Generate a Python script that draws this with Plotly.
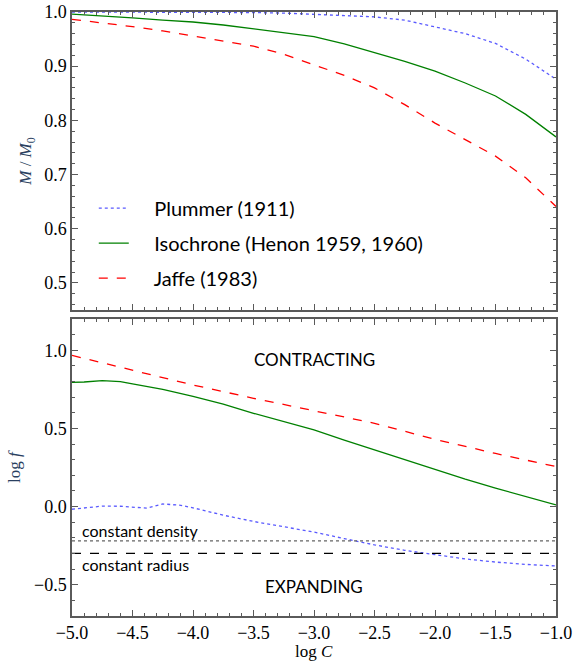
import plotly.graph_objects as go

# ---- data ----
logC = [-5.0, -4.75, -4.5, -4.25, -4.0, -3.75, -3.5, -3.25, -3.0, -2.75,
        -2.5, -2.25, -2.0, -1.75, -1.5, -1.25, -1.0]

mass_plummer = [1.0, 1.0, 1.0, 1.0, 1.0, 0.999, 0.999, 0.998, 0.996, 0.994,
                0.991, 0.985, 0.973, 0.960, 0.942, 0.913, 0.876]
mass_isochrone = [0.996, 0.993, 0.989, 0.985, 0.9815, 0.976, 0.969, 0.962, 0.9545, 0.941,
                  0.925, 0.909, 0.891, 0.869, 0.845, 0.811, 0.7695]
mass_jaffe = [0.9865, 0.980, 0.973, 0.965, 0.9556, 0.947, 0.937, 0.922, 0.903, 0.883,
              0.860, 0.829, 0.795, 0.765, 0.734, 0.694, 0.641]

f_plummer_x = [-5.0, -4.85, -4.75, -4.6, -4.45, -4.38, -4.25, -4.1, -4.0, -3.75, -3.5,
               -3.25, -3.0, -2.75, -2.5, -2.25, -2.0, -1.75, -1.5, -1.25, -1.0]
f_plummer = [-0.017, -0.003, 0.003, 0.002, -0.008, -0.01, 0.017, 0.008, -0.008, -0.055,
             -0.095, -0.13, -0.163, -0.205, -0.245, -0.28, -0.308, -0.335, -0.355, -0.37, -0.38]

f_iso_x = [-5.0, -4.9, -4.75, -4.6, -4.5, -4.25, -4.0, -3.75, -3.5, -3.25, -3.0,
           -2.75, -2.5, -2.25, -2.0, -1.75, -1.5, -1.25, -1.0]
f_isochrone = [0.795, 0.797, 0.806, 0.800, 0.785, 0.750, 0.705, 0.655, 0.597, 0.545, 0.490,
               0.425, 0.362, 0.300, 0.235, 0.175, 0.118, 0.063, 0.011]

f_jaffe_x = [-5.0, -4.5, -4.0, -3.5, -3.0, -2.5, -2.0, -1.5, -1.0]
f_jaffe = [0.967, 0.874, 0.778, 0.693, 0.615, 0.533, 0.430, 0.340, 0.256]

const_density = -0.22
const_radius = -0.30

names = ["Plummer (1911)", "Isochrone (Henon 1959, 1960)", "Jaffe (1983)"]
colors = ["rgb(90,90,255)", "rgb(0,128,0)", "rgb(255,0,0)"]
dashes = ["dot", "solid", "dash"]

fig = go.Figure()
for i, (nm, col, ds, ys) in enumerate(zip(names, colors, dashes,
                                           [mass_plummer, mass_isochrone, mass_jaffe])):
    fig.add_trace(go.Scatter(x=logC, y=ys, mode="lines", name="\u00a0" * 4 + nm,
                             legendgroup=f"g{i}",
                             line=dict(color=col, dash=ds, width=1.3),
                             xaxis="x", yaxis="y"))
for col, ds, xs, ys in zip(colors, dashes, [f_plummer_x, f_iso_x, f_jaffe_x],
                           [f_plummer, f_isochrone, f_jaffe]):
    fig.add_trace(go.Scatter(x=xs, y=ys, mode="lines", showlegend=False,
                             line=dict(color=col, dash=ds, width=1.3),
                             xaxis="x2", yaxis="y2"))
fig.add_trace(go.Scatter(x=[-5.0, -1.0], y=[const_density] * 2, mode="lines", showlegend=False,
                         line=dict(color="rgb(100,100,100)", dash="dot", width=1.2),
                         xaxis="x2", yaxis="y2"))
fig.add_trace(go.Scatter(x=[-5.0, -1.0], y=[const_radius] * 2, mode="lines", showlegend=False,
                         line=dict(color="black", dash="dash", width=1.2),
                         xaxis="x2", yaxis="y2"))

serif = "Liberation Serif"
sans = "Lato"
axcol = "rgb(90,90,90)"

def axis_common(**kw):
    d = dict(showline=True, linecolor=axcol, linewidth=1.5, mirror="allticks",
             ticks="inside", ticklen=6, tickcolor=axcol, tickwidth=1.2,
             showgrid=False, zeroline=False, automargin=False,
             ticklabeloverflow="allow",
             tickfont=dict(family=serif, size=18, color="black"))
    d.update(kw)
    return d

fig.update_layout(
    width=576, height=664,
    margin=dict(l=72, r=20, t=12, b=48, autoexpand=False),
    paper_bgcolor="white", plot_bgcolor="white",
    xaxis=axis_common(domain=[0, 1], anchor="y", range=[-5, -1], dtick=0.5,
                      showticklabels=False,
                      minor=dict(dtick=0.1, ticks="inside", ticklen=3, tickcolor=axcol)),
    yaxis=axis_common(domain=[0.5066, 1], anchor="x", range=[0.45, 1.0], dtick=0.1,
                      tickformat=".1f",
                      minor=dict(dtick=0.02, ticks="inside", ticklen=3, tickcolor=axcol),
                      title=dict(text="<i>M</i> / <i>M</i><sub>0</sub>",
                                 font=dict(family=serif, size=17), standoff=8)),
    xaxis2=axis_common(domain=[0, 1], anchor="y2", range=[-5, -1], dtick=0.5,
                       tickformat=".1f",
                       minor=dict(dtick=0.1, ticks="inside", ticklen=3, tickcolor=axcol)),
    yaxis2=axis_common(domain=[0, 0.4917], anchor="x2", range=[-0.7, 1.2], dtick=0.5,
                       tick0=0, tickformat=".1f",
                       minor=dict(dtick=0.1, ticks="inside", ticklen=3, tickcolor=axcol),
                       title=dict(text="log <i>f</i>", font=dict(family=serif, size=17),
                                  standoff=9)),
    legend=dict(x=0.045, y=0.6175, xanchor="left", yanchor="middle",
                bgcolor="rgba(0,0,0,0)", font=dict(family=sans, size=20, color="black"),
                tracegroupgap=6, itemwidth=30),
    showlegend=True,
)

# x-axis title placed as paper annotation (closer to tick labels than axis title allows)
fig.add_annotation(x=0.5, y=-0.059, xref="paper", yref="paper", text="log <i>C</i>",
                   showarrow=False, yanchor="middle",
                   font=dict(family=serif, size=17, color="black"))

ann_font = dict(family=sans, size=17, color="black")
fig.add_annotation(x=-3.0, y=0.94, xref="x2", yref="y2", text="CONTRACTING",
                   showarrow=False, font=ann_font)
fig.add_annotation(x=-3.0, y=-0.51, xref="x2", yref="y2", text="EXPANDING",
                   showarrow=False, font=ann_font)
fig.add_annotation(x=-4.93, y=-0.155, xref="x2", yref="y2", text="constant density",
                   showarrow=False, xanchor="left", font=dict(family=sans, size=16, color="black"))
fig.add_annotation(x=-4.93, y=-0.37, xref="x2", yref="y2", text="constant radius",
                   showarrow=False, xanchor="left", font=dict(family=sans, size=16, color="black"))

fig.write_html("out.html", config={"displayModeBar": False},
               post_script="document.body.style.margin='0px';")
